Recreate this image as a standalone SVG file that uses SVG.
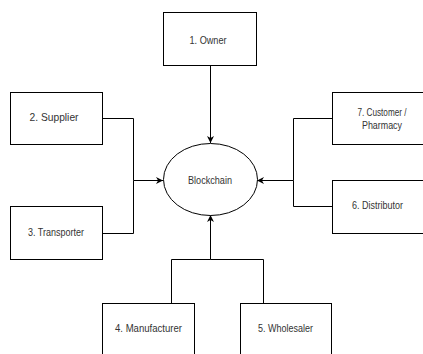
<svg xmlns="http://www.w3.org/2000/svg" width="423" height="354" viewBox="0 0 423 354">
<style>
.box{fill:#fff;stroke:#000;stroke-width:1}
.lbl{font-family:"Liberation Sans",Arial,sans-serif;font-size:11px;fill:#333;text-anchor:middle}
.edge{fill:none;stroke:#000;stroke-width:1}
</style>
<defs>
<marker id="arr" viewBox="0 0 10 10" refX="10" refY="5" markerWidth="7" markerHeight="7" markerUnits="userSpaceOnUse" orient="auto">
<path d="M0,0 L10,5 L0,10 L3,5 Z" fill="#000"/>
</marker>
</defs>
<rect width="423" height="354" fill="#fff"/>
<g id="connectors">
<path class="edge" d="M210.5,65 V143" marker-end="url(#arr)"/>
<path class="edge" d="M102,118.5 H133.5 V180.5 H163" marker-end="url(#arr)"/>
<path class="edge" d="M102,233.5 H133.5 V180.5"/>
<path class="edge" d="M332,118.5 H293.5 V180.5 H257" marker-end="url(#arr)"/>
<path class="edge" d="M332,206.5 H293.5 V180.5"/>
<path class="edge" d="M171.5,303 V259.5 H210.5 V215" marker-end="url(#arr)"/>
<path class="edge" d="M263.5,303 V259.5 H210.5"/>
</g>
<g id="owner"><rect class="box" x="163.5" y="12.5" width="93" height="53"/><text class="lbl" x="208" y="43.5" textLength="37" lengthAdjust="spacingAndGlyphs">1. Owner</text></g>
<g id="supplier"><rect class="box" x="10.5" y="92.5" width="92" height="52"/><text class="lbl" x="54" y="121" textLength="49" lengthAdjust="spacingAndGlyphs">2. Supplier</text></g>
<g id="transporter"><rect class="box" x="10.5" y="206.5" width="92" height="53"/><text class="lbl" x="56" y="236" textLength="56" lengthAdjust="spacingAndGlyphs">3. Transporter</text></g>
<g id="customer"><rect class="box" x="332.5" y="92.5" width="100" height="52"/><text class="lbl" x="382" y="116" textLength="49" lengthAdjust="spacingAndGlyphs">7. Customer /</text><text class="lbl" x="382" y="129" textLength="40" lengthAdjust="spacingAndGlyphs">Pharmacy</text></g>
<g id="distributor"><rect class="box" x="332.5" y="180.5" width="100" height="53"/><text class="lbl" x="377.5" y="209" textLength="51" lengthAdjust="spacingAndGlyphs">6. Distributor</text></g>
<g id="manufacturer"><rect class="box" x="102.5" y="303.5" width="92" height="60"/><text class="lbl" x="148.5" y="332" textLength="67" lengthAdjust="spacingAndGlyphs">4. Manufacturer</text></g>
<g id="wholesaler"><rect class="box" x="240.5" y="303.5" width="91" height="60"/><text class="lbl" x="285.5" y="332" textLength="55" lengthAdjust="spacingAndGlyphs">5. Wholesaler</text></g>
<g id="blockchain"><ellipse class="box" cx="210.5" cy="179.5" rx="47" ry="36"/><text class="lbl" x="210" y="184" textLength="44" lengthAdjust="spacingAndGlyphs">Blockchain</text></g>
</svg>
